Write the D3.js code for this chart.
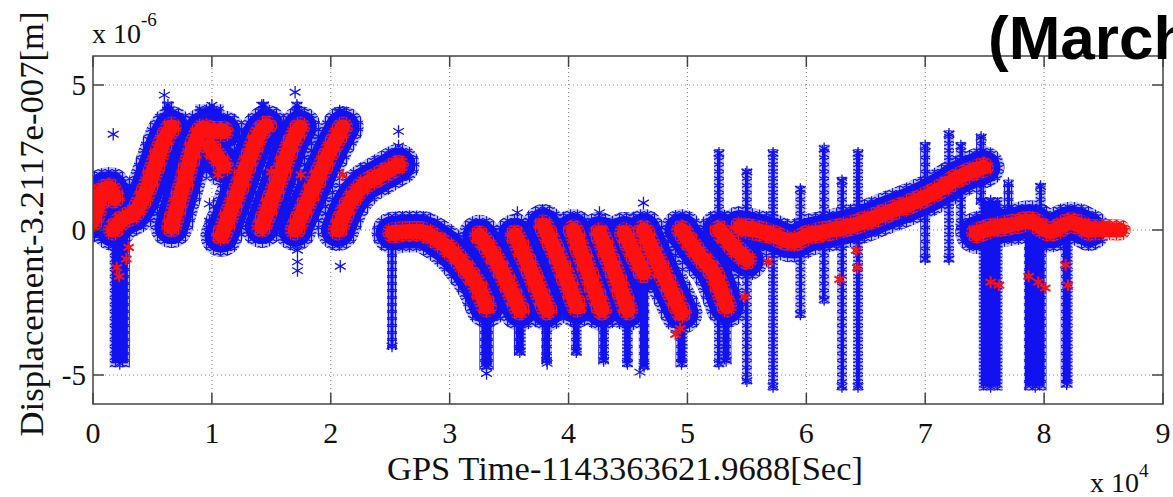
<!DOCTYPE html>
<html lang="en">
<head>
<meta charset="utf-8">
<title>Displacement vs GPS Time</title>
<script src="https://cdn.jsdelivr.net/npm/d3@7/dist/d3.min.js"></script>
<style>
  body { margin: 0; background: #fff; }
  svg { display: block; }
  .serif { font-family: "Liberation Serif", "Times New Roman", serif; fill: #111; }
</style>
</head>
<body>
<script>
// time in units of 1e4 s, displacement in units of 1e-6 m
var xTicks = [0, 1, 2, 3, 4, 5, 6, 7, 8, 9];
var yTicks = [-5, 0, 5];

// red trace pieces
var redTraces = [
  [[0.0, 0.3], [0.04, 0.8], [0.09, 1.4], [0.14, 1.45], [0.18, 1.1]],
  [[0.17, 0.0], [0.24, 0.34], [0.35, 0.6], [0.44, 1.27], [0.52, 2.17], [0.61, 3.2], [0.66, 3.55]],
  [[0.66, 0.1], [0.77, 1.7], [0.86, 3.0], [0.93, 3.5], [1.02, 3.4], [1.1, 3.4]],
  [[0.98, 2.9], [1.1, 2.2]],
  [[1.08, -0.2], [1.19, 1.0], [1.3, 2.3], [1.42, 3.45], [1.46, 3.6]],
  [[1.42, 0.1], [1.56, 1.7], [1.67, 3.0], [1.74, 3.55]],
  [[1.7, 0.0], [1.87, 1.6], [2.01, 2.86], [2.1, 3.55]],
  [[2.06, 0.0], [2.14, 0.8], [2.26, 1.48], [2.4, 1.85], [2.57, 2.25]],
  [[2.52, -0.1], [2.65, -0.05], [2.75, -0.05], [2.86, -0.25], [2.98, -0.6], [3.15, -1.4], [3.25, -2.05], [3.31, -2.65]],
  [[3.25, -0.2], [3.34, -0.7], [3.42, -1.28], [3.59, -2.76]],
  [[3.55, -0.17], [3.68, -1.38], [3.82, -2.76]],
  [[3.79, 0.17], [3.93, -1.14], [4.07, -2.65]],
  [[4.04, 0.0], [4.15, -1.28], [4.28, -2.76]],
  [[4.26, -0.1], [4.38, -1.38], [4.5, -2.76]],
  [[4.47, -0.1], [4.63, -1.48]],
  [[4.63, 0.0], [4.77, -1.28], [4.95, -2.86]],
  [[4.95, 0.0], [5.11, -0.93], [5.22, -1.48], [5.33, -2.65]],
  [[5.27, 0.0], [5.39, -0.59], [5.5, -1.03]],
  [[5.44, 0.1], [5.67, -0.1], [5.89, -0.4], [6.0, -0.2], [6.22, 0.0], [6.45, 0.24], [6.68, 0.6], [6.9, 0.95], [7.1, 1.35], [7.29, 1.83], [7.49, 2.17]],
  [[7.43, -0.1], [7.6, 0.1], [7.75, 0.2], [7.88, 0.3], [8.05, -0.05], [8.22, 0.25], [8.38, 0.0]]
];
// tail where only the red series is present
var redOnlyTrace = [[8.36, 0.0], [8.5, 0.02], [8.64, 0.0]];

// blue columns of scattered points: [t0, t1, low, high]
var blueSpikes = [
  [0.14, 0.31, -4.6, 0.0],
  [0.58, 0.68, 3.2, 4.3],
  [0.86, 1.1, 3.2, 4.2],
  [1.39, 1.48, 3.2, 4.3],
  [1.67, 1.76, 3.2, 4.3],
  [2.03, 2.12, 3.2, 4.1],
  [2.49, 2.54, -4.0, 0.0],
  [3.25, 3.37, -4.7, -2.6],
  [3.54, 3.64, -4.2, -2.7],
  [3.77, 3.86, -4.5, -2.7],
  [4.02, 4.11, -4.2, -2.6],
  [4.25, 4.34, -4.5, -2.7],
  [4.45, 4.54, -4.6, -2.7],
  [4.59, 4.68, -4.7, -1.4],
  [4.90, 5.00, -4.6, -2.8],
  [5.28, 5.37, -4.5, -2.6],
  [5.24, 5.29, -4.6, 2.65],
  [5.48, 5.52, -5.2, 2.0],
  [5.69, 5.75, -5.4, 2.65],
  [5.94, 5.96, -2.9, 1.4],
  [6.14, 6.16, -2.4, 2.8],
  [6.28, 6.32, -5.4, 1.7],
  [6.40, 6.47, -5.4, 2.65],
  [6.99, 7.01, -1.0, 2.9],
  [7.19, 7.21, -1.0, 3.3],
  [7.29, 7.31, 0.1, 2.9],
  [7.46, 7.48, 1.0, 3.2],
  [7.45, 7.65, -5.4, 1.0],
  [7.83, 8.02, -5.4, 0.0],
  [8.14, 8.24, -5.3, 0.0],
  [7.69, 7.71, 0.0, 1.6],
  [7.96, 7.98, 0.0, 1.5]
];

var blueOutliers = [
  [0.17, 3.3], [0.6, 4.65], [1.0, 4.3], [1.42, 4.3], [1.7, 4.75], [2.57, 3.4], [2.57, 2.9],
  [0.6, 1.4], [0.58, 0.6], [0.6, 0.0], [0.98, 0.9], [0.98, 0.3], [0.98, -0.1],
  [1.45, 1.4], [1.47, 0.7], [1.72, -0.7], [1.72, -1.1], [1.72, -1.4], [2.08, -1.25],
  [3.57, 0.6], [4.26, 0.6], [4.63, 0.93], [3.31, -4.95], [3.82, -4.6], [4.6, -4.9]
];

var redOutliers = [
  [0.2, -1.3], [0.22, -1.6], [0.28, -1.0], [0.3, -0.6], [1.05, 1.9], [1.5, 2.0], [1.75, 1.9],
  [2.1, 1.9], [4.9, -3.6], [4.94, -3.4], [5.48, -2.3], [5.68, -1.1], [6.28, -1.7],
  [6.42, -0.7], [6.43, -1.3], [7.55, -1.8], [7.62, -1.9], [7.87, -1.6], [7.95, -1.8],
  [8.01, -2.0], [8.18, -1.2], [8.2, -1.9]
];

var W = 1173, H = 497;
var pL = 93, pR = 1163, pT = 56, pB = 404;
var blue = "#1212f0", red = "#ff1010";

var x = d3.scaleLinear().domain([0, 9]).range([pL, pR]);
var y = d3.scaleLinear().domain([-6, 6]).range([pB, pT]);

var svg = d3.select("body").append("svg").attr("width", W).attr("height", H);
var defs = svg.append("defs");

defs.append("clipPath").attr("id", "plotclip")
  .append("rect").attr("x", pL).attr("y", pT)
  .attr("width", pR - pL).attr("height", pB - pT);

// asterisk texture for the dense point clouds
var star = d3.symbol(d3.symbolAsterisk, 80);
function texture(id, color, bgOpacity) {
  var p = defs.append("pattern").attr("id", id)
    .attr("patternUnits", "userSpaceOnUse").attr("width", 7).attr("height", 7);
  p.append("rect").attr("width", 7).attr("height", 7).attr("fill", color).attr("opacity", bgOpacity);
  p.append("path").attr("d", star()).attr("transform", "translate(3.5,3.5)")
    .attr("stroke", color).attr("stroke-width", 1.2).attr("fill", "none");
}
texture("astB", blue, 0.25);
texture("astR", red, 0.2);

// grid
var grid = svg.append("g").attr("stroke", "#888").attr("stroke-width", 1.1)
  .attr("stroke-dasharray", "1,3");
grid.selectAll(".gx").data(xTicks.slice(1, -1)).enter().append("line")
  .attr("x1", d => x(d)).attr("x2", d => x(d)).attr("y1", pT).attr("y2", pB);
grid.selectAll(".gy").data(yTicks).enter().append("line")
  .attr("y1", d => y(d)).attr("y2", d => y(d)).attr("x1", pL).attr("x2", pR);

var plot = svg.append("g").attr("clip-path", "url(#plotclip)");
var line = d3.line().x(d => x(d[0])).y(d => y(d[1])).curve(d3.curveMonotoneX);

// blue band (fuzzy edge + solid core)
plot.selectAll(".bfz").data(redTraces).enter().append("path")
  .attr("d", line).attr("fill", "none").attr("stroke", "url(#astB)")
  .attr("stroke-width", 42).attr("stroke-linecap", "round").attr("stroke-linejoin", "round");
plot.selectAll(".bcore").data(redTraces).enter().append("path")
  .attr("d", line).attr("fill", "none").attr("stroke", blue)
  .attr("stroke-width", 34).attr("stroke-linecap", "round").attr("stroke-linejoin", "round");

// blue columns
plot.selectAll(".spk").data(blueSpikes).enter().append("rect")
  .attr("x", d => Math.min(x(d[0]), (x(d[0]) + x(d[1])) / 2 - 5))
  .attr("width", d => Math.max(x(d[1]) - x(d[0]), 10))
  .attr("y", d => y(d[3]) - 4).attr("height", d => y(d[2]) - y(d[3]) + 8)
  .attr("fill", "url(#astB)");
plot.selectAll(".spkl").data(blueSpikes).enter().append("line")
  .attr("x1", d => x((d[0] + d[1]) / 2)).attr("x2", d => x((d[0] + d[1]) / 2))
  .attr("y1", d => y(d[3])).attr("y2", d => y(d[2]))
  .attr("stroke", blue).attr("stroke-width", 3);
plot.selectAll(".spkc").data(blueSpikes.filter(d => d[1] - d[0] > 0.04)).enter().append("rect")
  .attr("x", d => x(d[0]) + 2).attr("width", d => x(d[1]) - x(d[0]) - 4)
  .attr("y", d => y(d[3])).attr("height", d => y(d[2]) - y(d[3]))
  .attr("fill", blue);
var spikeEnds = [];
blueSpikes.forEach(function (d) {
  var c = (d[0] + d[1]) / 2;
  spikeEnds.push([c, d[2]], [c, d[3]]);
});
plot.selectAll(".spe").data(spikeEnds.concat(blueOutliers)).enter().append("path")
  .attr("d", d3.symbol(d3.symbolAsterisk, 110)())
  .attr("transform", d => "translate(" + x(d[0]) + "," + y(d[1]) + ")")
  .attr("stroke", blue).attr("stroke-width", 1.3).attr("fill", "none");

// red series
var reds = redTraces.concat([redOnlyTrace]);
plot.selectAll(".rfz").data(reds).enter().append("path")
  .attr("d", line).attr("fill", "none").attr("stroke", "url(#astR)")
  .attr("stroke-width", 21).attr("stroke-linecap", "round").attr("stroke-linejoin", "round");
plot.selectAll(".rcore").data(reds).enter().append("path")
  .attr("d", line).attr("fill", "none").attr("stroke", red)
  .attr("stroke-width", 15).attr("stroke-linecap", "round").attr("stroke-linejoin", "round");
plot.selectAll(".ro").data(redOutliers).enter().append("path")
  .attr("d", d3.symbol(d3.symbolAsterisk, 100)())
  .attr("transform", d => "translate(" + x(d[0]) + "," + y(d[1]) + ")")
  .attr("stroke", red).attr("stroke-width", 2).attr("fill", "none");

// axes box with inward ticks
var ax = svg.append("g").attr("stroke", "#444").attr("stroke-width", 1.5).attr("fill", "none");
ax.append("rect").attr("x", pL).attr("y", pT).attr("width", pR - pL).attr("height", pB - pT);
xTicks.forEach(function (t) {
  ax.append("line").attr("x1", x(t)).attr("x2", x(t)).attr("y1", pB).attr("y2", pB - 11);
  ax.append("line").attr("x1", x(t)).attr("x2", x(t)).attr("y1", pT).attr("y2", pT + 11);
});
yTicks.forEach(function (t) {
  ax.append("line").attr("y1", y(t)).attr("y2", y(t)).attr("x1", pL).attr("x2", pL + 11);
  ax.append("line").attr("y1", y(t)).attr("y2", y(t)).attr("x1", pR).attr("x2", pR - 11);
});

// tick labels
svg.selectAll(".xl").data(xTicks).enter().append("text").attr("class", "serif")
  .attr("x", d => x(d)).attr("y", 443).attr("text-anchor", "middle")
  .attr("font-size", 30).text(d => d);
svg.selectAll(".yl").data(yTicks).enter().append("text").attr("class", "serif")
  .attr("x", 86).attr("y", d => y(d) + 10).attr("text-anchor", "end")
  .attr("font-size", 29).text(d => d);

// exponent labels
var e1 = svg.append("text").attr("class", "serif").attr("x", 92).attr("y", 43).attr("font-size", 28);
e1.append("tspan").text("x 10");
e1.append("tspan").attr("font-size", 19).attr("dy", -17).text("-6");
var e2 = svg.append("text").attr("class", "serif").attr("x", 1090).attr("y", 492).attr("font-size", 28);
e2.append("tspan").text("x 10");
e2.append("tspan").attr("font-size", 19).attr("dy", -15).text("4");

// axis titles
svg.append("text").attr("class", "serif").attr("x", 625).attr("y", 480)
  .attr("text-anchor", "middle").attr("font-size", 33)
  .attr("textLength", 476).attr("lengthAdjust", "spacingAndGlyphs")
  .text("GPS Time-1143363621.9688[Sec]");
svg.append("text").attr("class", "serif")
  .attr("transform", "translate(43,224) rotate(-90)")
  .attr("text-anchor", "middle").attr("font-size", 34)
  .attr("textLength", 425).attr("lengthAdjust", "spacingAndGlyphs")
  .text("Displacement-3.2117e-007[m]");

// title, cut by the right edge as in the picture
svg.append("text").attr("x", 988).attr("y", 59)
  .attr("font-family", "'Liberation Sans', Arial, sans-serif").attr("font-weight", "bold")
  .attr("font-size", 62).attr("fill", "#000").text("(March");
</script>
</body>
</html>
